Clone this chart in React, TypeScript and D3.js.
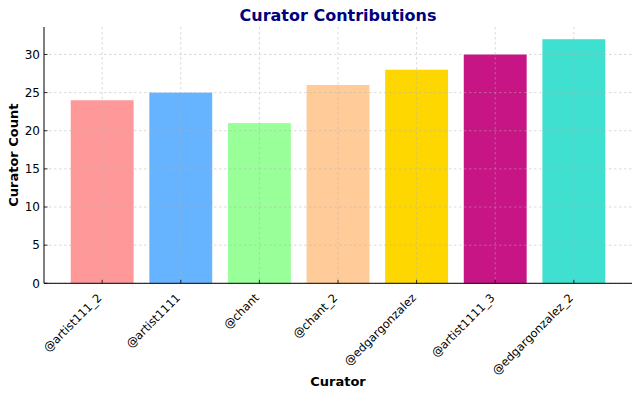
import { useEffect, useRef } from 'react';
import * as d3 from 'd3';

const curators = ['@artist111_2', '@artist1111', '@chant', '@chant_2', '@edgargonzalez', '@artist1111_3', '@edgargonzalez_2'];
const counts = [24, 25, 21, 26, 28, 30, 32];
const barColors = ['#ff9999', '#66b3ff', '#99ff99', '#ffcc99', '#ffd700', '#c71585', '#40e0d0'];
const yTicks = [0, 5, 10, 15, 20, 25, 30];

export default function App() {
    const svgRef = useRef<SVGSVGElement>(null);

    useEffect(() => {
        if (!svgRef.current) return;
        const W = 640, H = 397;
        const left = 44, right = 632, top = 27, bottom = 283.3;
        const font = 'DejaVu Sans, sans-serif';

        const svg = d3.select(svgRef.current);
        svg.selectAll('*').remove();

        const n = curators.length;
        const x = d3.scaleLinear().domain([-0.74, n - 1 + 0.74]).range([left, right]);
        const yMax = d3.max(counts)! * 1.05;
        const y = d3.scaleLinear().domain([0, yMax]).range([bottom, top]);
        const bw = x(0.4) - x(0);

        // Bars
        svg.append('g').selectAll('rect')
            .data(counts)
            .join('rect')
            .attr('x', (_, i) => x(i) - bw)
            .attr('y', d => y(d))
            .attr('width', bw * 2)
            .attr('height', d => bottom - y(d))
            .attr('fill', (_, i) => barColors[i]);

        // Grid (drawn above bars, faint)
        const grid = svg.append('g')
            .attr('stroke', '#b0b0b0').attr('stroke-opacity', 0.6)
            .attr('stroke-width', 0.8).attr('stroke-dasharray', '2.5,2.5');
        yTicks.forEach(t => {
            grid.append('line').attr('x1', left).attr('x2', right).attr('y1', y(t)).attr('y2', y(t));
        });
        curators.forEach((_, i) => {
            grid.append('line').attr('x1', x(i)).attr('x2', x(i)).attr('y1', top).attr('y2', bottom);
        });

        // Spines
        svg.append('line').attr('x1', left).attr('x2', left).attr('y1', top).attr('y2', bottom)
            .attr('stroke', '#000').attr('stroke-width', 1);
        svg.append('line').attr('x1', left).attr('x2', right).attr('y1', bottom).attr('y2', bottom)
            .attr('stroke', '#000').attr('stroke-width', 1);

        // Y ticks (inward)
        yTicks.forEach(t => {
            svg.append('line').attr('x1', left).attr('x2', left + 3.5).attr('y1', y(t)).attr('y2', y(t))
                .attr('stroke', '#000').attr('stroke-width', 0.8);
            svg.append('text')
                .attr('x', left - 4).attr('y', y(t)).attr('dy', '0.35em')
                .attr('text-anchor', 'end').attr('font-family', font).attr('font-size', 12)
                .attr('fill', '#000').text(t);
        });

        // X ticks (inward) and rotated labels
        curators.forEach((c, i) => {
            svg.append('line').attr('x1', x(i)).attr('x2', x(i)).attr('y1', bottom).attr('y2', bottom - 3.5)
                .attr('stroke', '#000').attr('stroke-width', 0.8);
            svg.append('text')
                .attr('transform', `translate(${x(i) - 5.5},${bottom + 9.5}) rotate(-45)`)
                .attr('text-anchor', 'end').attr('dy', '0.7em')
                .attr('font-family', font).attr('font-size', 11.5).attr('fill', '#000')
                .text(c);
        });

        // Title and axis labels
        svg.append('text')
            .attr('x', (left + right) / 2).attr('y', 21)
            .attr('text-anchor', 'middle').attr('font-family', font)
            .attr('font-size', 16).attr('font-weight', 'bold').attr('fill', '#000080')
            .text('Curator Contributions');
        svg.append('text')
            .attr('x', (left + right) / 2).attr('y', 386)
            .attr('text-anchor', 'middle').attr('font-family', font)
            .attr('font-size', 13).attr('font-weight', 'bold').attr('fill', '#000')
            .text('Curator');
        svg.append('text')
            .attr('transform', `translate(18,${(top + bottom) / 2}) rotate(-90)`)
            .attr('text-anchor', 'middle').attr('font-family', font)
            .attr('font-size', 13).attr('font-weight', 'bold').attr('fill', '#000')
            .text('Curator Count');

        svg.attr('width', W).attr('height', H);
    }, []);

    return (
        <div style={{ position: 'absolute', left: 0, top: 0, background: '#fff' }}>
            <svg ref={svgRef} style={{ display: 'block' }} />
        </div>
    );
}
